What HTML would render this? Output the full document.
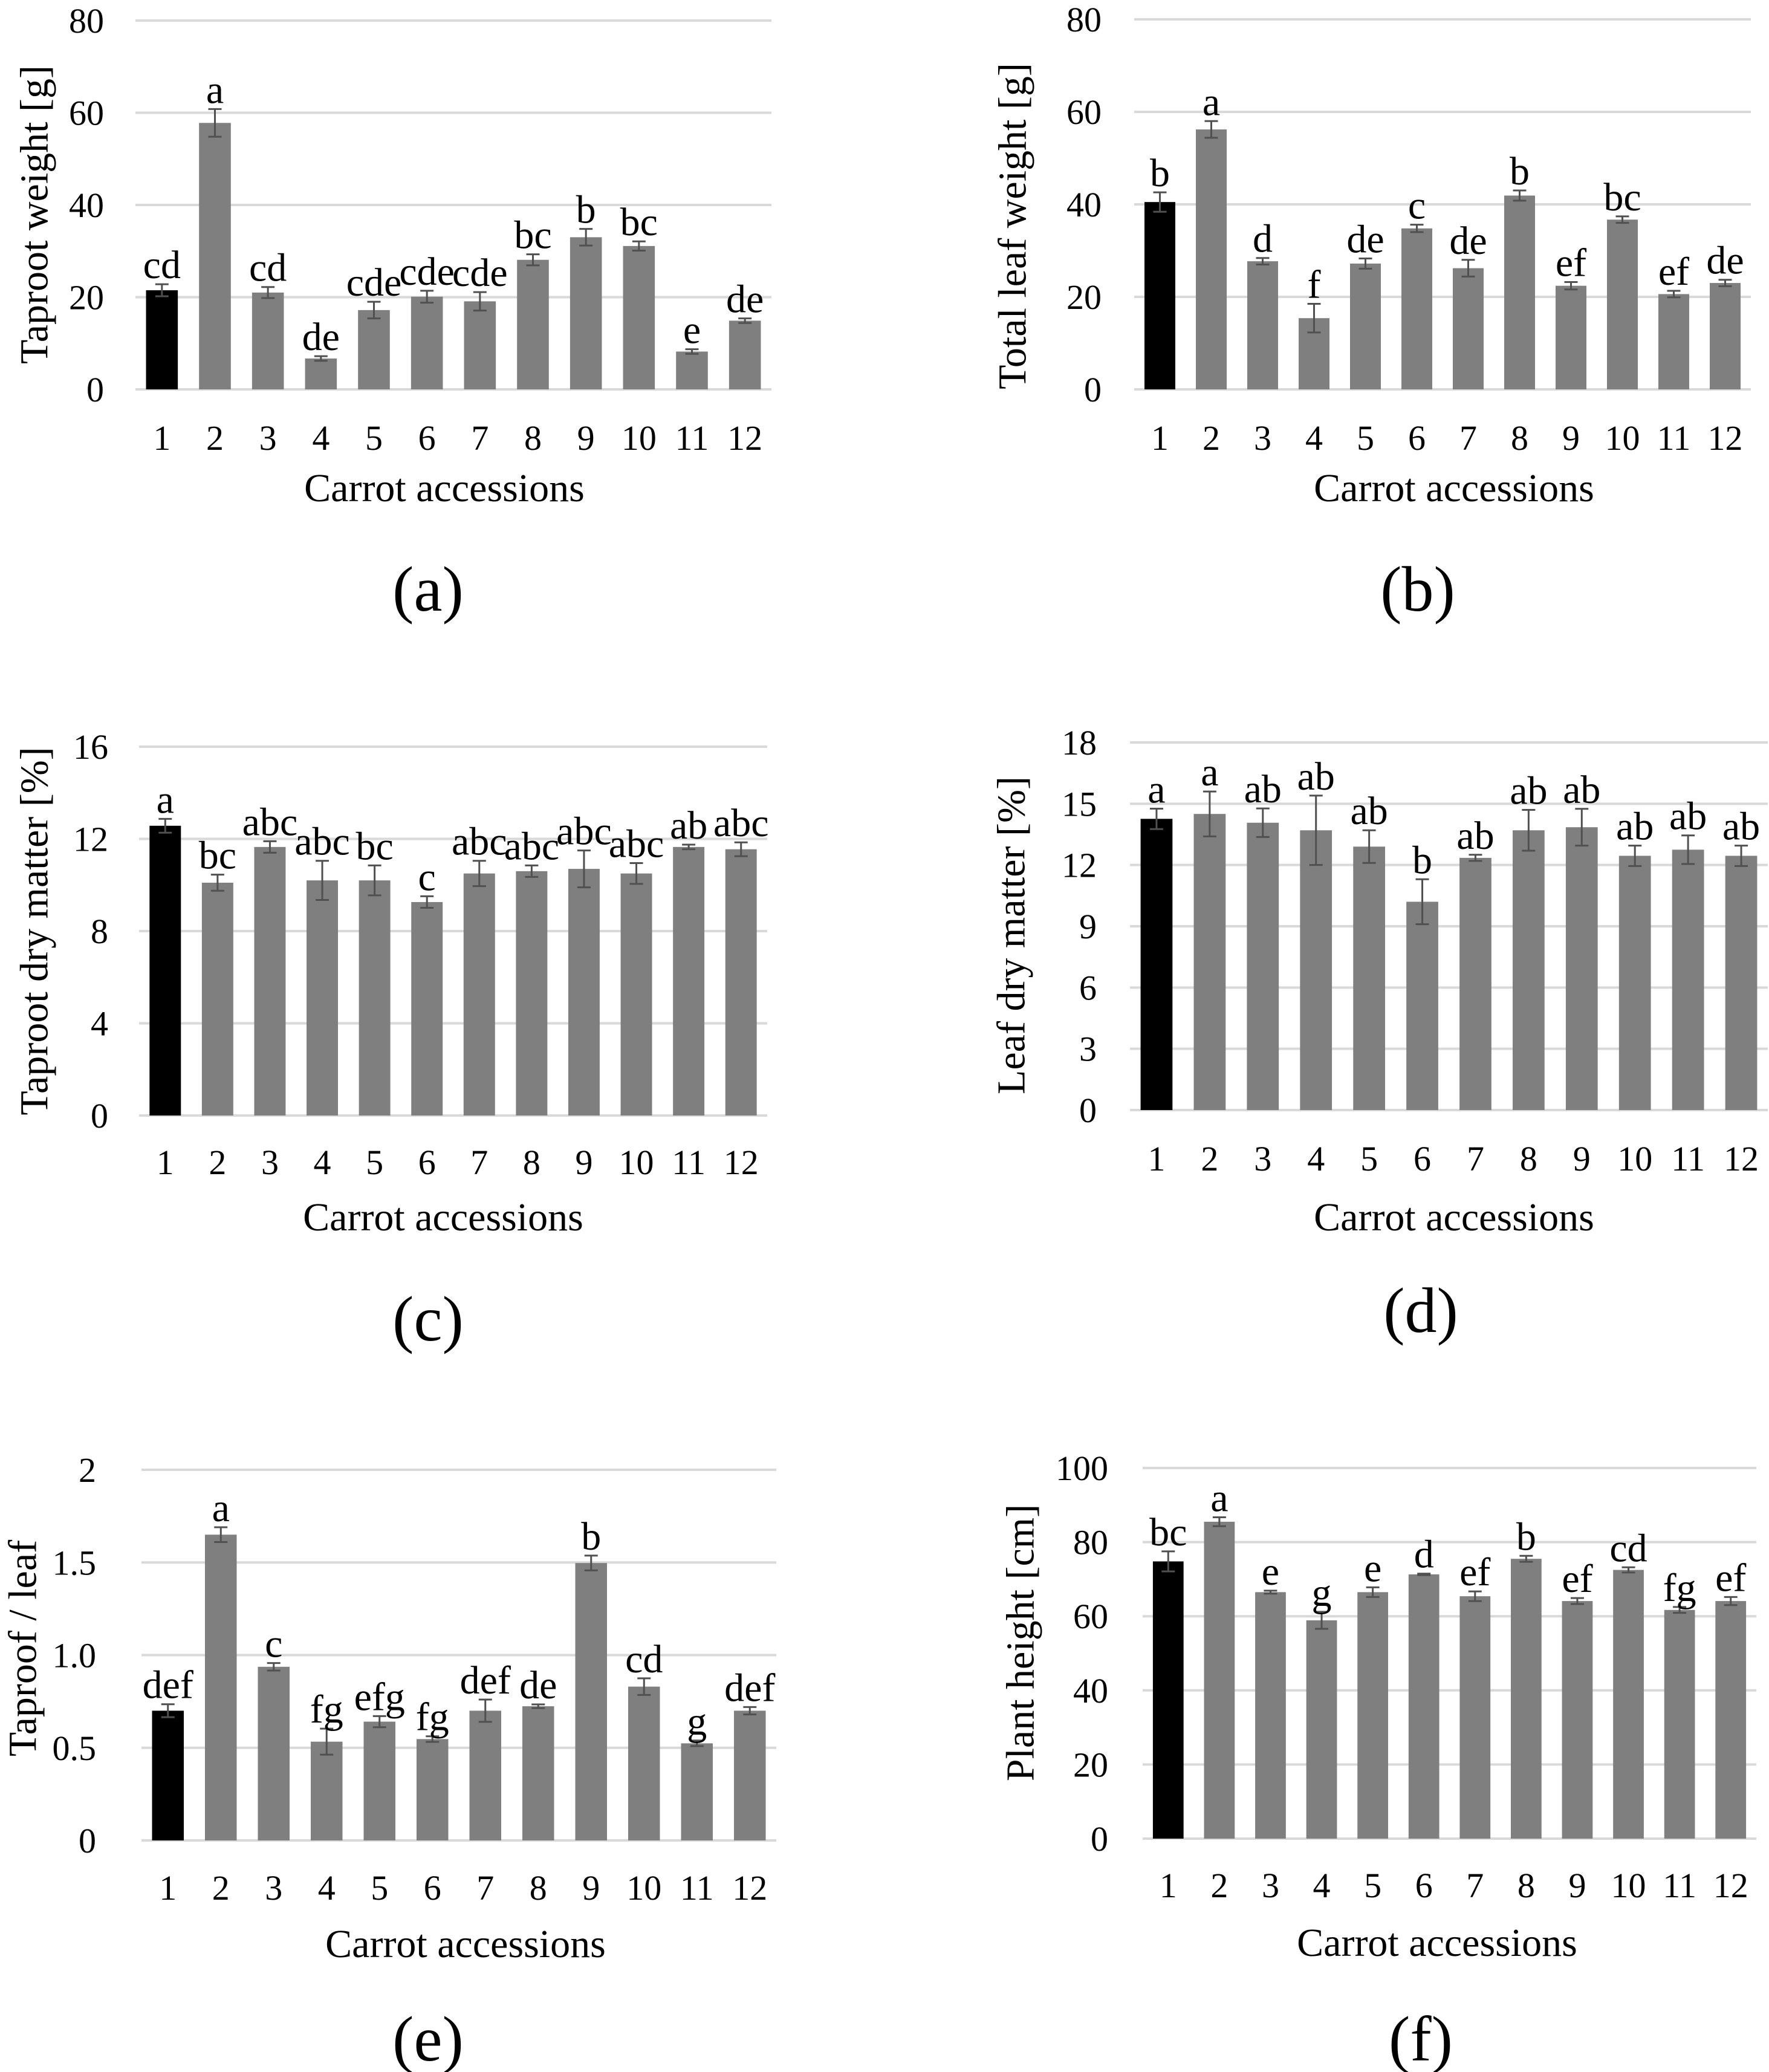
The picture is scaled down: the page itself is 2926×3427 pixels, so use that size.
<!DOCTYPE html>
<html><head><meta charset="utf-8"><style>
html,body{margin:0;padding:0;background:#fff;}
svg{display:block;font-family:"Liberation Serif",serif;}
</style></head><body>
<svg id="fig" xmlns="http://www.w3.org/2000/svg" width="2926" height="3427" viewBox="0 0 2926 3427"></svg>
<script>
const categories = ["1","2","3","4","5","6","7","8","9","10","11","12"];
const taprootWeight = [21.5,57.8,21.0,6.7,17.2,20.1,19.1,28.1,33.0,31.1,8.2,14.9];
const taprootWeightErr = [1.3,3.0,1.2,0.5,1.8,1.3,2.0,1.2,1.8,1.0,0.5,0.5];
const taprootWeightLetters = ["cd","a","cd","de","cde","cde","cde","bc","b","bc","e","de"];
const leafWeight = [40.5,56.2,27.7,15.4,27.2,34.8,26.2,41.9,22.4,36.7,20.6,23.0];
const leafWeightErr = [2.1,1.8,0.7,3.1,1.1,0.8,1.8,1.1,0.8,0.7,0.7,0.7];
const leafWeightLetters = ["b","a","d","f","de","c","de","b","ef","bc","ef","de"];
const taprootDM = [12.57,10.1,11.65,10.2,10.2,9.26,10.5,10.6,10.7,10.5,11.65,11.55];
const taprootDMErr = [0.3,0.35,0.25,0.85,0.65,0.25,0.55,0.25,0.8,0.45,0.1,0.3];
const taprootDMLetters = ["a","bc","abc","abc","bc","c","abc","abc","abc","abc","ab","abc"];
const leafDM = [14.26,14.5,14.07,13.7,12.9,10.2,12.35,13.7,13.85,12.45,12.75,12.45];
const leafDMErr = [0.5,1.1,0.7,1.7,0.8,1.1,0.15,1.0,0.9,0.5,0.7,0.5];
const leafDMLetters = ["a","a","ab","ab","ab","b","ab","ab","ab","ab","ab","ab"];
const ratio = [0.70,1.65,0.937,0.533,0.641,0.547,0.70,0.724,1.497,0.83,0.524,0.70];
const ratioErr = [0.035,0.04,0.02,0.07,0.03,0.015,0.06,0.01,0.04,0.045,0.015,0.02];
const ratioLetters = ["def","a","c","fg","efg","fg","def","de","b","cd","g","def"];
const heightVals = [74.8,85.5,66.5,58.9,66.5,71.3,65.4,75.5,64.1,72.5,61.7,64.1];
const heightErr = [2.7,1.2,0.4,2.3,1.3,0.2,1.3,0.8,0.8,0.7,0.8,1.1];
const heightLetters = ["bc","a","e","g","e","d","ef","b","ef","cd","fg","ef"];
const ticksA = [0,20,40,60,80];
const ticksC = [0,4,8,12,16];
const ticksD = [0,3,6,9,12,15,18];
const ticksE = [0,0.5,1.0,1.5,2];
const ticksELabels = ["0","0.5","1.0","1.5","2"];
const ticksF = [0,20,40,60,80,100];

const NS="http://www.w3.org/2000/svg";
const svg=document.getElementById('fig');
function mk(tag,attrs,parent){const e=document.createElementNS(NS,tag);for(const k in attrs)e.setAttribute(k,attrs[k]);(parent||svg).appendChild(e);return e;}

const panels=[
 {id:'a',vals:taprootWeight,err:taprootWeightErr,let:taprootWeightLetters,ticks:ticksA,tl:null,max:80,x0:224,x1:1276,yT:34,yB:644,labR:172,ytX:57,ytY:355,title:'Taproot weight [g]',tickY:724,caX:735,caY:806,pX:708,pY:974},
 {id:'b',vals:leafWeight,err:leafWeightErr,let:leafWeightLetters,ticks:ticksA,tl:null,max:80,x0:1876,x1:2896,yT:32,yB:644,labR:1822,ytX:1675,ytY:374,title:'Total leaf weight [g]',tickY:724,caX:2405,caY:806,pX:2345,pY:974},
 {id:'c',vals:taprootDM,err:taprootDMErr,let:taprootDMLetters,ticks:ticksC,tl:null,max:16,x0:230,x1:1269,yT:1235,yB:1845,labR:179,ytX:57,ytY:1540,title:'Taproot dry matter [%]',tickY:1922,caX:733,caY:2012,pX:708,pY:2181},
 {id:'d',vals:leafDM,err:leafDMErr,let:leafDMLetters,ticks:ticksD,tl:null,max:18,x0:1869,x1:2924,yT:1228,yB:1836,labR:1814,ytX:1673,ytY:1547,title:'Leaf dry matter [%]',tickY:1916,caX:2405,caY:2012,pX:2350,pY:2167},
 {id:'e',vals:ratio,err:ratioErr,let:ratioLetters,ticks:ticksE,tl:ticksELabels,max:2,x0:234,x1:1284,yT:2431,yB:3044,labR:159,ytX:38,ytY:2726,title:'Taproof / leaf',tickY:3122,caX:770,caY:3214,pX:708,pY:3372},
 {id:'f',vals:heightVals,err:heightErr,let:heightLetters,ticks:ticksF,tl:null,max:100,x0:1890,x1:2905,yT:2428,yB:3041,labR:1833,ytX:1688,ytY:2717,title:'Plant height [cm]',tickY:3118,caX:2377,caY:3212,pX:2350,pY:3372}
];

panels.forEach(p=>{
 const g=mk('g',{});
 
 
 const y=v=>p.yB-(v/p.max)*(p.yB-p.yT);
 const step=(p.x1-p.x0)/categories.length;
 const xc=i=>p.x0+step*(i+0.5);
 p.ticks.forEach((t,k)=>{
  const gl=mk('line',{x1:p.x0,x2:p.x1,y1:y(t),y2:y(t),stroke:'#d9d9d9','stroke-width':4},g);
  
  
  const tx=mk('text',{x:p.labR,y:y(t)+20,'text-anchor':'end','font-size':58,fill:'#000'},g);
  tx.textContent=p.tl?p.tl[k]:String(t);
  
  
 });
 const bw=step*0.6;
 p.vals.forEach((v,i)=>{
  const r=mk('rect',{x:xc(i)-bw/2,y:y(v),width:bw,height:y(0)-y(v),fill:i===0?'#000':'#7f7f7f'},g);
  
  
  const e=p.err[i],yt=y(v+e),yb=y(v-e);
  const eg=mk('g',{stroke:'#505050','stroke-width':3},g);
  
  
  mk('line',{x1:xc(i),x2:xc(i),y1:yt,y2:yb},eg);
  mk('line',{x1:xc(i)-11,x2:xc(i)+11,y1:yt,y2:yt},eg);
  mk('line',{x1:xc(i)-11,x2:xc(i)+11,y1:yb,y2:yb},eg);
  const lt=mk('text',{x:xc(i),y:yt-10,'text-anchor':'middle','font-size':66,fill:'#000'},g);
  lt.textContent=p.let[i];
  
  
  const xt=mk('text',{x:xc(i),y:p.tickY+20,'text-anchor':'middle','font-size':58,fill:'#000'},g);
  xt.textContent=categories[i];
  
  
 });
 const yt=mk('text',{x:p.ytX,y:p.ytY,'text-anchor':'middle','font-size':66,fill:'#000',transform:'rotate(-90 '+p.ytX+' '+p.ytY+')','dominant-baseline':'central'},g);
 yt.textContent=p.title;
 
 
 const xa=mk('text',{x:p.caX,y:p.caY+23,'text-anchor':'middle','font-size':66,fill:'#000'},g);
 xa.textContent='Carrot accessions';
 
 
 const pl=mk('text',{x:p.pX,y:p.pY+36,'text-anchor':'middle','font-size':106,fill:'#000'},g);
 pl.textContent='('+p.id+')';
 
 
});
</script>
</body></html>
